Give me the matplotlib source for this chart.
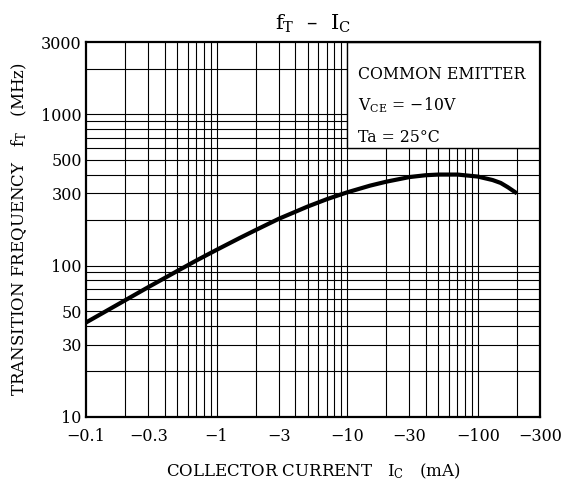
import numpy as np
import matplotlib
matplotlib.use("Agg")
import matplotlib.pyplot as plt
from matplotlib.patches import Rectangle

plt.rcParams['font.family'] = ['DejaVu Serif']
plt.rcParams['mathtext.fontset'] = 'dejavuserif'

# collector current |Ic| (mA) and transition frequency fT (MHz)
ic = [0.1, 0.2, 0.3, 0.5, 0.7, 1, 1.5, 2, 3, 5, 7, 10, 15, 20, 30, 40, 50, 70, 100, 130, 150, 170, 200]
ft = [42, 59, 72, 92, 108, 127, 152, 172, 204, 246, 275, 305, 338, 359, 385, 396, 400, 400, 388, 368, 352, 330, 300]

x_ticks = [0.1, 0.3, 1, 3, 10, 30, 100, 300]
x_labels = ["\u22120.1", "\u22120.3", "\u22121", "\u22123", "\u221210", "\u221230", "\u2212100", "\u2212300"]
y_ticks = [10, 30, 50, 100, 300, 500, 1000, 3000]
y_labels = ["10", "30", "50", "100", "300", "500", "1000", "3000"]

fig = plt.figure(figsize=(5.64, 4.83), dpi=100)
ax = fig.add_axes([86 / 564, 1 - 416.7 / 483, (540 - 86) / 564, (416.7 - 42.3) / 483])
ax.set_xscale('log')
ax.set_yscale('log')
ax.set_xlim(0.1, 300)
ax.set_ylim(10, 3000)

# grid lines at every 1..9 step of each decade
for dec in [0.1, 1, 10, 100]:
    for k in range(1, 10):
        v = dec * k
        if 0.1 < v < 300:
            ax.axvline(v, color='black', lw=0.8, zorder=1)
for dec in [10, 100, 1000]:
    for k in range(1, 10):
        v = dec * k
        if 10 < v < 3000:
            ax.axhline(v, color='black', lw=0.8, zorder=1)

# conditions box, covers the grid in the top right corner
ax.add_patch(Rectangle((10, 600), 290, 2400, facecolor='white', edgecolor='black',
                       lw=1.0, zorder=2))
ax.text(0.6, 0.915, "COMMON EMITTER", transform=ax.transAxes, fontsize=11.3,
        va='center', zorder=3)
ax.text(0.6, 0.832, "V$_{\\rm CE}$ = \u221210V", transform=ax.transAxes, fontsize=11.3,
        va='center', zorder=3)
ax.text(0.6, 0.747, "Ta = 25\u00b0C", transform=ax.transAxes, fontsize=11.3,
        va='center', zorder=3)

ax.plot(ic, ft, color='black', lw=3, solid_capstyle='butt', zorder=4)

ax.set_xticks(x_ticks)
ax.set_xticklabels(x_labels)
ax.set_yticks(y_ticks)
ax.set_yticklabels(y_labels)
ax.minorticks_off()
ax.tick_params(length=0, labelsize=11.5)
ax.tick_params(axis='x', pad=8)
ax.tick_params(axis='y', pad=3)

for s in ax.spines.values():
    s.set_linewidth(1.6)
    s.set_zorder(5)

ax.set_title("f$_{\\rm T}$  \u2013  I$_{\\rm C}$", fontsize=15, pad=9)
ax.set_xlabel("COLLECTOR CURRENT   I$_{\\rm C}$   (mA)", fontsize=12, labelpad=12)
ax.set_ylabel("TRANSITION FREQUENCY   f$_{\\rm T}$   (MHz)", fontsize=12, labelpad=9)

fig.savefig("out.png", dpi=100)
